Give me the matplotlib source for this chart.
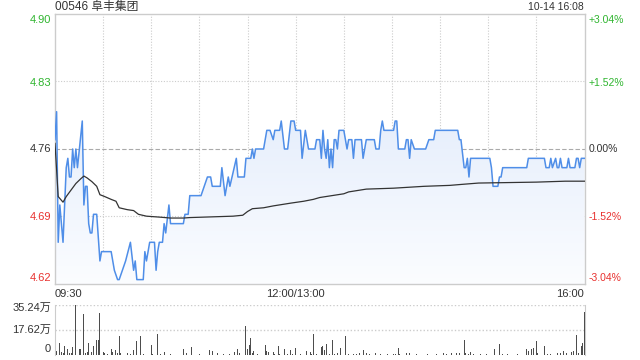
import numpy as np
import matplotlib
matplotlib.use("Agg")
import matplotlib.pyplot as plt
from matplotlib.patches import Polygon

plt.rcParams['font.family'] = ['Liberation Sans', 'Noto Sans CJK SC', 'DejaVu Sans']

title = "00546 阜丰集团"
stamp = "10-14 16:08"
prev_close = 4.76
pct_range = 3.04
left_labels = ["4.90", "4.83", "4.76", "4.69", "4.62"]
right_labels = ["+3.04%", "+1.52%", "0.00%", "-1.52%", "-3.04%"]
x_labels = ["09:30", "12:00/13:00", "16:00"]
vol_labels = ["35.24万", "17.62万", "0"]
vol_max = 35.24

# minutes since 09:30 (trading minutes, 330 total)
price_min = [0, 1, 2, 3, 5, 7, 8, 9, 10, 11, 12, 13, 14, 17, 18, 19, 20, 21, 22, 23, 24, 26, 28, 29, 35, 37, 39, 40,
             42, 44, 47, 49, 50, 51, 55, 56, 57, 59, 62, 63, 64, 65, 67, 68, 69, 71, 72, 80, 81, 83, 84, 91, 93, 95,
             97, 98, 103, 104, 106, 108, 109, 113, 114, 118, 119, 122, 123, 124, 125, 130, 131, 132, 134, 136, 137,
             140, 141, 143, 145, 147, 149, 150, 153, 154, 156, 158, 162, 163, 165, 166, 167, 168, 169, 170, 171, 172,
             173, 174, 175, 176, 177, 180, 182, 183, 185, 186, 187, 191, 192, 194, 199, 200, 202, 203, 204, 205, 211,
             212, 213, 214, 218, 219, 220, 221, 222, 224, 231, 233, 236, 237, 251, 252, 253, 255, 256, 257, 258, 259,
             271, 272, 273, 276, 277, 278, 279, 294, 295, 305, 306, 308, 309, 310, 312, 313, 314, 315, 316, 319, 320,
             321, 324, 325, 326, 327, 328, 329, 330]
price_val = [4.77, 4.80, 4.66, 4.70, 4.66, 4.74, 4.75, 4.73, 4.73, 4.76, 4.74, 4.76, 4.74, 4.79, 4.70, 4.72, 4.72,
             4.68, 4.67, 4.67, 4.69, 4.69, 4.64, 4.65, 4.65, 4.63, 4.62, 4.62, 4.63, 4.64, 4.66, 4.63, 4.64, 4.62,
             4.62, 4.65, 4.64, 4.66, 4.66, 4.63, 4.65, 4.66, 4.66, 4.68, 4.67, 4.70, 4.68, 4.68, 4.69, 4.69, 4.71,
             4.71, 4.72, 4.73, 4.73, 4.72, 4.72, 4.74, 4.71, 4.73, 4.72, 4.75, 4.73, 4.73, 4.75, 4.75, 4.76, 4.75,
             4.76, 4.76, 4.77, 4.78, 4.78, 4.77, 4.78, 4.78, 4.79, 4.76, 4.76, 4.79, 4.79, 4.78, 4.78, 4.75, 4.78,
             4.76, 4.76, 4.77, 4.77, 4.75, 4.78, 4.76, 4.75, 4.77, 4.74, 4.76, 4.74, 4.77, 4.77, 4.76, 4.78, 4.78,
             4.76, 4.77, 4.77, 4.75, 4.77, 4.77, 4.75, 4.77, 4.77, 4.76, 4.76, 4.78, 4.79, 4.78, 4.78, 4.79, 4.79,
             4.76, 4.76, 4.77, 4.77, 4.75, 4.77, 4.76, 4.76, 4.77, 4.77, 4.78, 4.78, 4.77, 4.77, 4.74, 4.74, 4.75,
             4.73, 4.75, 4.75, 4.74, 4.72, 4.72, 4.73, 4.73, 4.74, 4.74, 4.75, 4.75, 4.74, 4.74, 4.75, 4.74, 4.75,
             4.74, 4.74, 4.75, 4.74, 4.74, 4.75, 4.74, 4.74, 4.75, 4.75, 4.74, 4.75, 4.75, 4.75]

avg_min = [0, 2, 5, 7, 10, 13, 16, 18, 20, 23, 26, 28, 31, 35, 38, 40, 45, 49, 52, 57, 65, 72, 80, 84, 111, 117, 120,
           123, 130, 136, 147, 155, 161, 165, 180, 183, 194, 211, 230, 246, 253, 264, 300, 318, 330]
avg_val = [4.766, 4.709, 4.703, 4.709, 4.716, 4.723, 4.728, 4.731, 4.729, 4.725, 4.720, 4.711, 4.709, 4.706, 4.704,
           4.697, 4.695, 4.694, 4.690, 4.688, 4.687, 4.686, 4.686, 4.6865, 4.688, 4.689, 4.693, 4.696, 4.697, 4.699,
           4.702, 4.704, 4.706, 4.708, 4.712, 4.714, 4.717, 4.718, 4.720, 4.721, 4.722, 4.7235, 4.7245, 4.7255,
           4.7255]

# volume in 万 shares
vol_min = [1, 3, 4, 5, 6, 8, 9, 10, 11, 13, 15, 16, 18, 19, 20, 21, 23, 24, 26, 27, 28, 30, 31, 33, 35, 36, 38, 39,
           40, 41, 43, 45, 47, 49, 51, 53, 55, 60, 61, 64, 66, 68, 72, 80, 82, 85, 86, 90, 96, 98, 101, 105, 109, 112,
           114, 115, 119, 120, 121, 122, 123, 124, 126, 131, 132, 133, 134, 136, 137, 139, 140, 143, 145, 147, 148,
           150, 153, 157, 159, 160, 161, 163, 166, 167, 168, 169, 171, 172, 173, 174, 176, 177, 178, 181, 183, 186,
           188, 190, 192, 194, 196, 200, 203, 207, 211, 212, 214, 215, 219, 221, 225, 232, 238, 242, 244, 247, 250,
           252, 255, 256, 258, 259, 261, 265, 269, 274, 277, 279, 282, 288, 294, 295, 297, 298, 300, 301, 305, 307,
           309, 313, 315, 317, 319, 322, 323, 325, 326, 328, 329, 330]
vol_val = [2.8, 8.7, 2.0, 1.5, 6.3, 4.0, 1.5, 1.5, 5.4, 35.24, 4.0, 4.0, 28.9, 1.5, 2.3, 8.7, 2.3, 6.3, 10.6, 10.6,
           29.8, 2.3, 1.5, 1.0, 4.0, 2.3, 3.5, 1.5, 13.4, 1.5, 1.0, 1.2, 1.0, 3.5, 10.1, 13.4, 1.0, 7.0, 1.0, 14.8,
           1.0, 2.3, 1.0, 4.0, 1.2, 5.4, 1.2, 1.0, 3.5, 3.0, 1.2, 1.0, 1.0, 2.3, 4.0, 1.5, 20.4, 4.0, 7.0, 11.7, 1.5,
           3.0, 1.0, 7.0, 3.0, 2.3, 1.0, 2.3, 1.0, 6.3, 1.0, 4.0, 1.0, 3.5, 1.0, 4.7, 1.0, 3.0, 2.3, 1.0, 14.8, 1.0,
           5.4, 6.3, 3.5, 7.8, 1.0, 8.2, 10.6, 1.0, 1.5, 4.7, 4.7, 13.4, 1.0, 1.0, 1.0, 1.5, 3.5, 1.5, 1.0, 1.5, 1.0,
           1.0, 1.0, 1.0, 4.7, 1.0, 1.5, 1.5, 1.0, 1.0, 1.0, 1.2, 1.0, 1.2, 1.2, 1.5, 10.6, 1.5, 1.0, 2.3, 1.0, 1.0,
           1.0, 4.0, 7.8, 1.0, 1.0, 1.0, 4.0, 3.0, 4.0, 4.7, 9.9, 1.5, 6.3, 1.0, 1.0, 1.5, 1.5, 3.0, 1.5, 2.0, 3.0,
           14.1, 1.5, 6.3, 8.7, 30.5]

GREEN = '#2fb52f'
RED = '#e8312f'
DARK = '#333333'
GRIDC = '#cccccc'

W, H = 640, 360
fig = plt.figure(figsize=(6.4, 3.6), dpi=100)

def fx(px):
    return px / W

def fy(py):
    return 1 - py / H

L, R = 55, 584.5
ax = fig.add_axes([fx(L), fy(284), fx(R - L), (284 - 14) / H])
ylo = prev_close * (1 - pct_range / 100)
yhi = prev_close * (1 + pct_range / 100)
ax.set_xlim(0, 330)
ax.set_ylim(ylo, yhi)
ax.set_xticks([])
ax.set_yticks([])
for s in ax.spines.values():
    s.set_color(GRIDC)
    s.set_linewidth(1.0)

# grid
for m in range(30, 330, 30):
    ax.axvline(m, color=GRIDC, linestyle=(0, (1, 1.5)), linewidth=0.8, zorder=1)
for p in [1.52, -1.52]:
    ax.axhline(prev_close * (1 + p / 100), color=GRIDC, linestyle=(0, (1, 1.5)), linewidth=0.8, zorder=1)
ax.axhline(prev_close, color='#aaaaaa', linestyle=(0, (4, 2)), linewidth=0.8, zorder=1)

# gradient fill under price
pm = np.array(price_min, dtype=float)
pv = np.array(price_val, dtype=float)
grad = np.linspace(0, 1, 256).reshape(-1, 1)
top_c = np.array([0.85, 0.90, 0.98])
bot_c = np.array([0.985, 0.99, 1.0])
img = top_c[None, None, :] * (1 - grad[:, :, None]) + bot_c[None, None, :] * grad[:, :, None]
im = ax.imshow(img, extent=[0, 330, ylo, yhi], aspect='auto', origin='upper', zorder=2)
poly = Polygon(np.column_stack([np.r_[pm, pm[-1], pm[0]], np.r_[pv, ylo, ylo]]), closed=True,
               facecolor='none', edgecolor='none', transform=ax.transData)
ax.add_patch(poly)
im.set_clip_path(poly)

ax.plot(pm, pv, color='#4f8ee8', linewidth=1.1, zorder=4)
ax.plot(avg_min, avg_val, color=DARK, linewidth=0.9, zorder=5)

ax.text(555, ylo + 0.004, "sina.com", color='#cfcfcf', fontsize=8, ha='center', va='bottom', zorder=6)

# left / right labels
lpos = [14, 82.5, 149, 216.5, 284]
lcol = [GREEN, GREEN, DARK, RED, RED]
for i, (lab, r, py, c) in enumerate(zip(left_labels, right_labels, lpos, lcol)):
    yy = py
    if i == 0:
        yy = py + 6
    if i == 4:
        yy = py - 6
    fig.text(fx(51), fy(yy), lab, color=c, fontsize=8, ha='right', va='center')
    fig.text(fx(589), fy(yy), r, color=c, fontsize=7.5, ha='left', va='center')

fig.text(fx(55), fy(7), title, color=DARK, fontsize=8.5, ha='left', va='center')
fig.text(fx(584), fy(7), stamp, color=DARK, fontsize=7.5, ha='right', va='center')

fig.text(fx(55), fy(294), x_labels[0], color=DARK, fontsize=8, ha='left', va='center')
fig.text(fx(295.5), fy(294), x_labels[1], color=DARK, fontsize=8, ha='center', va='center')
fig.text(fx(584), fy(294), x_labels[2], color=DARK, fontsize=8, ha='right', va='center')

# volume panel
vax = fig.add_axes([fx(L), fy(355), fx(R - L), 50 / H])
vax.set_xlim(0, 330)
vax.set_ylim(0, vol_max)
vax.set_xticks([])
vax.set_yticks([])
for k, s in vax.spines.items():
    s.set_color(GRIDC)
vax.spines['top'].set_visible(False)
vax.spines['bottom'].set_visible(False)
vax.axhline(vol_max, color=GRIDC, linestyle=(0, (1, 1.5)), linewidth=1.0)
vax.axhline(vol_max / 2, color=GRIDC, linestyle=(0, (1, 1.5)), linewidth=1.0)
vax.bar(vol_min, vol_val, width=0.6, color='#4d4d4d', linewidth=0, zorder=3)

vpos = [308, 330, 349]
for lab, py in zip(vol_labels, vpos):
    fig.text(fx(51), fy(py), lab, color=DARK, fontsize=8, ha='right', va='center')

fig.savefig("out.png", dpi=100)
